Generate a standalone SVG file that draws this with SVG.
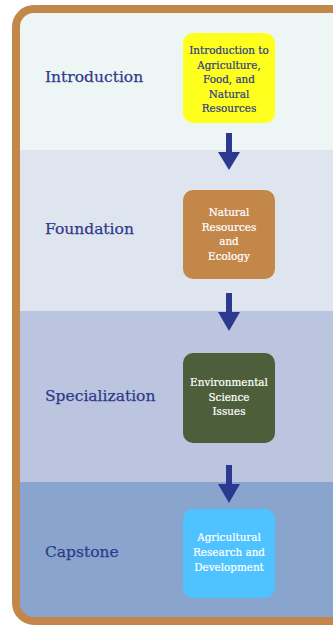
<svg xmlns="http://www.w3.org/2000/svg" width="333" height="625" viewBox="0 0 333 625">
<style>
.lane{font-family:"DejaVu Serif","Liberation Serif",serif;font-size:15.5px;fill:#2E3A8C;stroke:#2E3A8C;stroke-width:0.25}
.nt{font-family:"DejaVu Serif","Liberation Serif",serif;font-size:10.4px;text-anchor:middle;stroke-width:0.2}
.dark{fill:#2E3A8C;stroke:#2E3A8C}
.light{fill:#FFFFFF;stroke:#FFFFFF}
.arrow{fill:#2B3990}
</style>
<defs>
<clipPath id="frame"><rect x="16" y="9" width="340" height="612" rx="18"/></clipPath>
</defs>
<g id="lanes" clip-path="url(#frame)">
<rect x="0" y="0" width="360" height="150" fill="#EEF6F5"/>
<rect x="0" y="150" width="360" height="161" fill="#DFE5EF"/>
<rect x="0" y="311" width="360" height="171" fill="#BCC5DF"/>
<rect x="0" y="482" width="360" height="145" fill="#8AA5CD"/>
</g>
<rect id="border" x="16" y="9" width="340" height="612" rx="18" fill="none" stroke="#C4874A" stroke-width="8"/>
<g id="lane-labels">
<text class="lane" x="45" y="82">Introduction</text>
<text class="lane" x="45" y="234">Foundation</text>
<text class="lane" x="45" y="401">Specialization</text>
<text class="lane" x="45" y="557">Capstone</text>
</g>
<g id="connectors">
<path class="arrow" d="M226 133h6v19h8l-11 18l-11 -18h8z"/>
<path class="arrow" d="M226 293h6v19h8l-11 19l-11 -19h8z"/>
<path class="arrow" d="M226 465h6v19h8l-11 19l-11 -19h8z"/>
</g>
<g id="node-intro">
<rect x="183" y="33" width="92" height="90" rx="10" fill="#FFFF1E"/>
<text class="nt dark" x="229" y="54">Introduction to</text>
<text class="nt dark" x="229" y="68.5">Agriculture,</text>
<text class="nt dark" x="229" y="83">Food, and</text>
<text class="nt dark" x="229" y="97.5">Natural</text>
<text class="nt dark" x="229" y="112">Resources</text>
</g>
<g id="node-foundation">
<rect x="183" y="190" width="92" height="89" rx="10" fill="#C4874A"/>
<text class="nt light" x="229" y="216">Natural</text>
<text class="nt light" x="229" y="231">Resources</text>
<text class="nt light" x="229" y="245">and</text>
<text class="nt light" x="229" y="260">Ecology</text>
</g>
<g id="node-specialization">
<rect x="183" y="353" width="92" height="90" rx="10" fill="#4C5F3A"/>
<text class="nt light" x="229" y="386">Environmental</text>
<text class="nt light" x="229" y="401">Science</text>
<text class="nt light" x="229" y="415">Issues</text>
</g>
<g id="node-capstone">
<rect x="183" y="509" width="92" height="89" rx="10" fill="#4FC3FF"/>
<text class="nt light" x="229" y="541">Agricultural</text>
<text class="nt light" x="229" y="556">Research and</text>
<text class="nt light" x="229" y="571">Development</text>
</g>
</svg>
